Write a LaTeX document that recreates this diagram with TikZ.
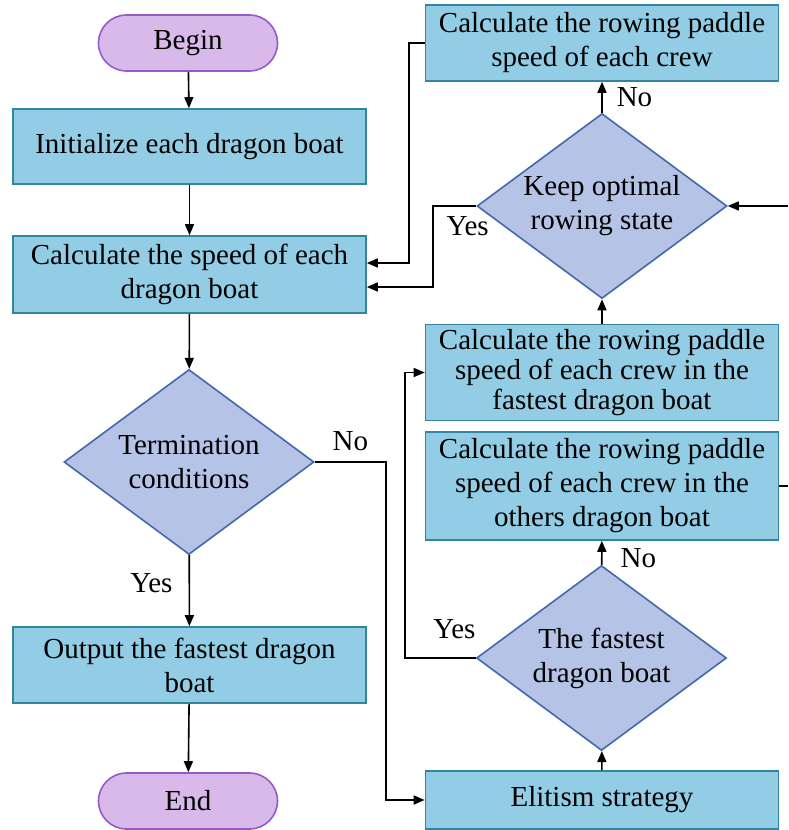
\documentclass[tikz,border=0pt]{standalone}
\usepackage{fontspec}
\setmainfont{LiberationSerif}[Extension=.ttf, UprightFont=*-Regular, BoldFont=*-Bold]
\usetikzlibrary{shapes.geometric,arrows.meta}

\definecolor{boxfill}{RGB}{146,205,229}
\definecolor{boxline}{RGB}{49,133,156}
\definecolor{diafill}{RGB}{180,195,230}
\definecolor{dialine}{RGB}{68,105,170}
\definecolor{termfill}{RGB}{216,185,233}
\definecolor{termline}{RGB}{150,90,200}

\tikzset{
  process/.style={rectangle, draw=boxline, fill=boxfill, line width=0.8pt,
    minimum width=176.5pt, minimum height=#1, align=center, inner sep=1pt},
  decision/.style={diamond, draw=dialine, fill=diafill, line width=0.8pt,
    minimum width=125pt, minimum height=92.5pt, aspect=1.35, align=center, inner sep=0pt},
  terminal/.style={rectangle, rounded corners=14pt, draw=termline, fill=termfill,
    line width=0.8pt, minimum width=89.5pt, minimum height=28pt},
  flow/.style={-{Triangle[length=5.5pt,width=4.5pt]}, line width=0.8pt, black},
  lbl/.style={inner sep=1pt}
}

\begin{document}
\begin{tikzpicture}[x=0.5pt, y=-0.5pt, font=\fontsize{14.5}{17}\selectfont]
\useasboundingbox (0,0) rectangle (788,830);

% Main loop (left column)
\node[terminal] (begin) at (188,43) {Begin};
\node[process=37.5pt] (init) at (189.5,146.5) {Initialize each dragon boat};
\node[process=38.5pt] (speed) at (189.5,274.5) {Calculate the speed of each\\dragon boat};
\node[decision] (term) at (189,462) {Termination\\conditions};
\node[process=38pt] (output) at (189.5,665) {Output the fastest dragon\\boat};
\node[terminal] (end) at (188,801) {End};

% Crew update (right column)
\node[process=38pt] (calc) at (602,43) {Calculate the rowing paddle\\speed of each crew};
\node[decision] (keep) at (602,206) {Keep optimal\\rowing state};
\node[process=48pt, font=\fontsize{14.5}{15}\selectfont] (fbox) at (602,372.5)
  {Calculate the rowing paddle\\speed of each crew in the\\fastest dragon boat};
\node[process=54pt] (others) at (602,486)
  {Calculate the rowing paddle\\speed of each crew in the\\others dragon boat};
\node[decision] (fdia) at (601.5,658) {The fastest\\dragon boat};
\node[process=29pt] (elite) at (602,800) {Elitism strategy};

% Loose ends at the right border
\coordinate (othersout) at (788,486);
\coordinate (keepin) at (788,206);

% Arrows
\draw[flow] (begin) -- (init);
\draw[flow] (init) -- (speed);
\draw[flow] (speed) -- (term);
\draw[flow] (term) -- node[lbl, left=7pt, pos=0.4] {Yes} (output);
\draw[flow] (output) -- (end);
\draw[flow] (term.east) -- node[lbl, above=4pt] {No} ++(71,0) |- (elite.west);
\draw[flow] (elite) -- (fdia);
\draw[flow] (fdia) -- node[lbl, right=8pt, pos=0.3] {No} (others);
\draw[flow] (fdia.west) -- node[lbl, above=8pt, pos=0.3] {Yes} ++(-71,0) |- (fbox.west);
\draw[flow] (fbox) -- (keep);
\draw[flow] (keep) -- node[lbl, right=6pt] {No} (calc);
\draw[flow] (calc.west) -- ++(-16,0) |- ([yshift=5.75pt]speed.east);
\draw[flow] (keep.west) -- node[lbl, below=4pt, pos=0.2] {Yes} ++(-43,0) |- ([yshift=-6.25pt]speed.east);
\draw[line width=0.8pt] (others.east) -- (othersout);
\draw[flow] (keepin) -- (keep.east);

\end{tikzpicture}
\end{document}
